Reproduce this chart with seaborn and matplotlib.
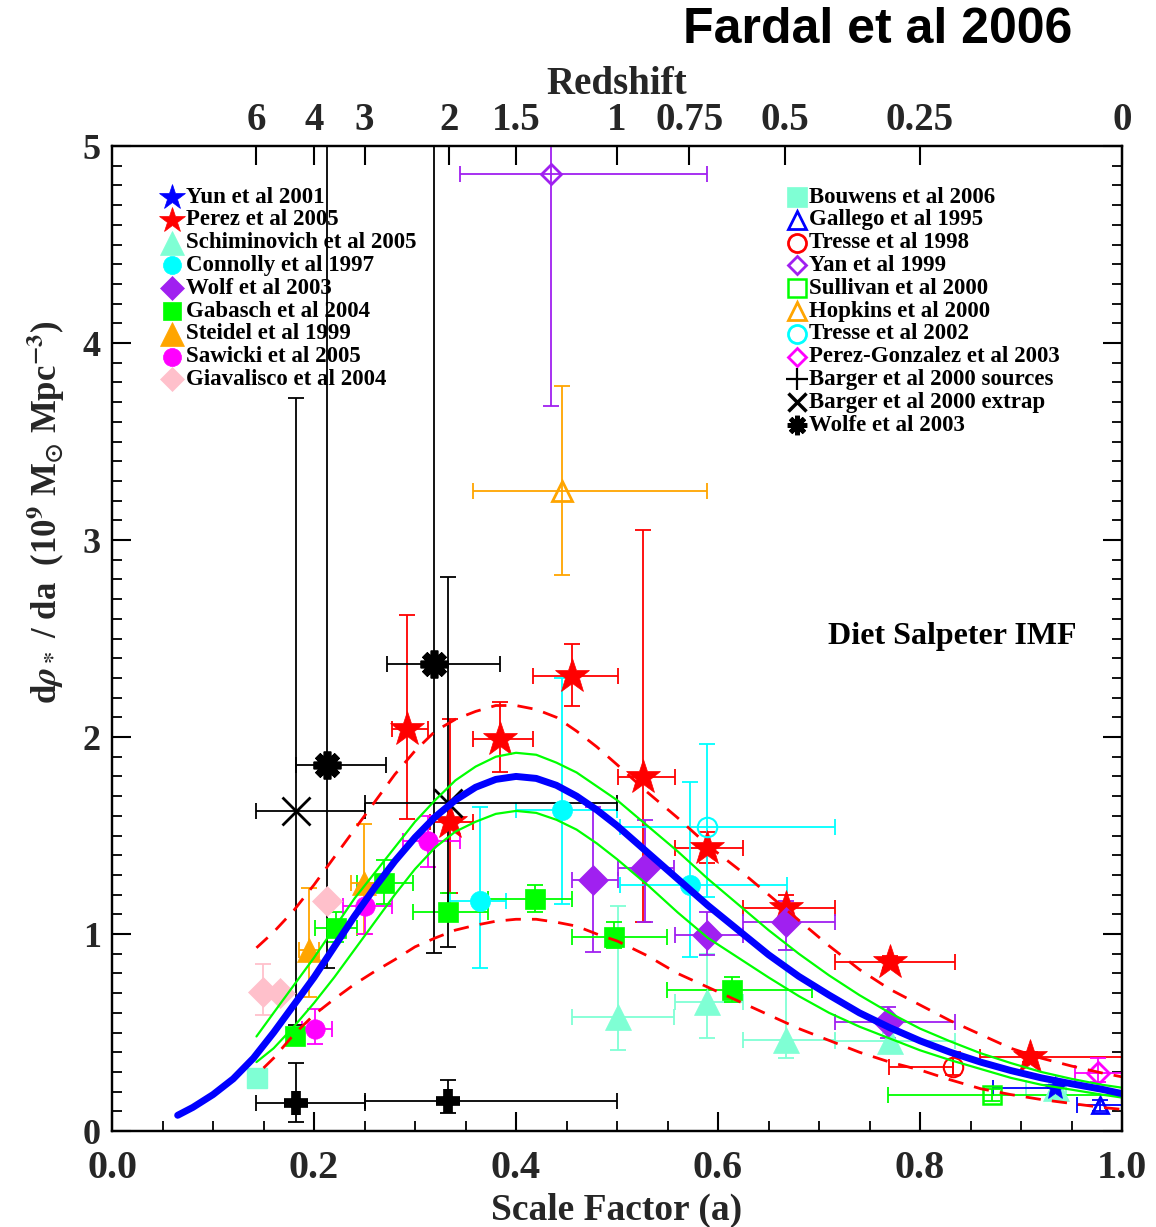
import numpy as np
import pandas as pd
import matplotlib
matplotlib.use("Agg")
import matplotlib.pyplot as plt
from matplotlib.ticker import MultipleLocator, FormatStrFormatter
import seaborn as sns

# ---------------- model curves ----------------
fit_a = [0.065, 0.08, 0.10, 0.12, 0.14, 0.16, 0.18, 0.20, 0.22, 0.24, 0.26, 0.28, 0.30, 0.32, 0.34,
         0.36, 0.38, 0.40, 0.42, 0.44, 0.46, 0.48, 0.50, 0.53, 0.56, 0.59, 0.62, 0.65, 0.68, 0.71,
         0.74, 0.77, 0.80, 0.83, 0.86, 0.89, 0.92, 0.95, 0.98, 1.00]
fit_y = [0.08, 0.12, 0.185, 0.265, 0.37, 0.50, 0.64, 0.78, 0.935, 1.09, 1.235, 1.37, 1.49, 1.595, 1.68,
         1.745, 1.785, 1.80, 1.79, 1.755, 1.70, 1.63, 1.55, 1.415, 1.28, 1.145, 1.02, 0.895, 0.785, 0.69,
         0.60, 0.525, 0.458, 0.40, 0.35, 0.307, 0.27, 0.24, 0.212, 0.19]

band_a = [0.143, 0.16, 0.18, 0.20, 0.22, 0.24, 0.26, 0.28, 0.30, 0.32, 0.34, 0.36, 0.38, 0.40, 0.42,
          0.44, 0.46, 0.48, 0.50, 0.53, 0.56, 0.59, 0.62, 0.65, 0.68, 0.71, 0.74, 0.77, 0.80, 0.83,
          0.86, 0.89, 0.92, 0.95, 0.98, 1.00]
green_hi = [0.48, 0.60, 0.74, 0.88, 1.03, 1.18, 1.31, 1.44, 1.57, 1.68, 1.78, 1.85, 1.90, 1.92, 1.91,
            1.87, 1.82, 1.75, 1.68, 1.55, 1.42, 1.28, 1.15, 1.02, 0.90, 0.79, 0.69, 0.60, 0.52, 0.455,
            0.395, 0.345, 0.30, 0.265, 0.235, 0.22]
green_lo = [0.35, 0.42, 0.53, 0.65, 0.78, 0.92, 1.06, 1.20, 1.33, 1.44, 1.52, 1.57, 1.61, 1.625, 1.615,
            1.58, 1.53, 1.46, 1.38, 1.25, 1.11, 0.98, 0.88, 0.78, 0.685, 0.60, 0.53, 0.47, 0.41, 0.36,
            0.315, 0.27, 0.235, 0.21, 0.185, 0.17]
red_hi = [0.93, 1.01, 1.12, 1.25, 1.39, 1.53, 1.67, 1.81, 1.93, 2.03, 2.09, 2.13, 2.16, 2.16, 2.14,
          2.10, 2.03, 1.95, 1.86, 1.72, 1.59, 1.45, 1.33, 1.20, 1.07, 0.94, 0.82, 0.72, 0.64, 0.56,
          0.49, 0.42, 0.37, 0.33, 0.295, 0.275]
red_lo_a = [0.15, 0.16, 0.18, 0.20, 0.22, 0.24, 0.26, 0.28, 0.30, 0.32, 0.34, 0.36, 0.38, 0.40, 0.42,
            0.44, 0.46, 0.48, 0.50, 0.53, 0.56, 0.59, 0.62, 0.65, 0.68, 0.71, 0.74, 0.77, 0.80, 0.83,
            0.86, 0.89, 0.92, 0.95, 0.98, 1.00]
red_lo = [0.32, 0.37, 0.49, 0.59, 0.67, 0.745, 0.81, 0.87, 0.935, 0.98, 1.02, 1.045, 1.065, 1.075, 1.075,
          1.06, 1.04, 1.00, 0.965, 0.89, 0.80, 0.73, 0.66, 0.59, 0.52, 0.46, 0.40, 0.35, 0.31, 0.26,
          0.215, 0.185, 0.16, 0.14, 0.12, 0.11]

# ---------------- data points: value, lower bound, upper bound ----------------
yun_x = [0.934]; yun_y = [0.22]
yun_xlo = [0.872]; yun_xhi = [0.934]; yun_ylo = [0.22]; yun_yhi = [0.22]

perez_x = [0.2925, 0.335, 0.384, 0.455, 0.526, 0.589, 0.667, 0.770, 0.909]
perez_y = [2.04, 1.57, 1.99, 2.31, 1.795, 1.437, 1.13, 0.86, 0.376]
perez_xlo = [0.277, 0.315, 0.357, 0.417, 0.501, 0.557, 0.625, 0.716, 0.859]
perez_xhi = [0.313, 0.357, 0.417, 0.501, 0.557, 0.625, 0.716, 0.835, 1.0]
perez_ylo = [1.585, 1.21, 1.82, 2.16, 1.06, 1.36, 1.06, 0.83, 0.35]
perez_yhi = [2.62, 2.09, 2.18, 2.47, 3.05, 1.52, 1.20, 0.89, 0.40]

schim_x = [0.501, 0.589, 0.667, 0.770, 0.935]
schim_y = [0.58, 0.655, 0.46, 0.455, 0.22]
schim_xlo = [0.455, 0.557, 0.625, 0.716, 0.905]
schim_xhi = [0.556, 0.625, 0.716, 0.835, 0.945]
schim_ylo = [0.41, 0.47, 0.37, 0.42, 0.20]
schim_yhi = [1.14, 0.90, 0.92, 0.50, 0.24]

conn_x = [0.364, 0.446, 0.572]
conn_y = [1.17, 1.63, 1.25]
conn_xlo = [0.335, 0.40, 0.503]
conn_xhi = [0.39, 0.50, 0.668]
conn_ylo = [0.83, 1.15, 0.885]
conn_yhi = [1.645, 2.30, 1.77]

wolf_x = [0.476, 0.528, 0.589, 0.667, 0.768]
wolf_y = [1.274, 1.335, 0.995, 1.06, 0.553]
wolf_xlo = [0.455, 0.501, 0.557, 0.625, 0.716]
wolf_xhi = [0.501, 0.556, 0.625, 0.716, 0.835]
wolf_ylo = [0.91, 1.06, 0.895, 0.92, 0.47]
wolf_yhi = [1.645, 1.58, 1.11, 1.17, 0.63]

gab_x = [0.181, 0.222, 0.269, 0.333, 0.419, 0.497, 0.614]
gab_y = [0.48, 1.03, 1.26, 1.11, 1.18, 0.985, 0.716]
gab_xlo = [0.181, 0.201, 0.2425, 0.298, 0.372, 0.455, 0.549]
gab_xhi = [0.181, 0.2425, 0.298, 0.372, 0.455, 0.549, 0.693]
gab_ylo = [0.48, 0.96, 1.15, 1.07, 1.11, 0.93, 0.655]
gab_yhi = [0.48, 1.11, 1.375, 1.21, 1.25, 1.06, 0.78]

steidel_x = [0.195, 0.249]
steidel_y = [0.92, 1.26]
steidel_xlo = [0.185, 0.237]
steidel_xhi = [0.205, 0.261]
steidel_ylo = [0.68, 1.0]
steidel_yhi = [1.235, 1.56]

saw_x = [0.201, 0.25, 0.313]
saw_y = [0.52, 1.14, 1.47]
saw_xlo = [0.188, 0.229, 0.288]
saw_xhi = [0.218, 0.277, 0.345]
saw_ylo = [0.44, 1.0, 1.34]
saw_yhi = [0.62, 1.25, 1.60]

giav_x = [0.149, 0.166, 0.213]
giav_y = [0.705, 0.70, 1.17]
giav_xlo = [0.149, 0.166, 0.213]
giav_xhi = [0.149, 0.166, 0.213]
giav_ylo = [0.59, 0.70, 1.17]
giav_yhi = [0.85, 0.70, 1.17]

bouw_x = [0.144]; bouw_y = [0.27]

gal_x = [0.978]; gal_y = [0.13]
gal_xlo = [0.955]; gal_xhi = [1.0]; gal_ylo = [0.10]; gal_yhi = [0.16]

tr98_x = [0.833]; tr98_y = [0.325]
tr98_xlo = [0.769]; tr98_xhi = [0.833]; tr98_ylo = [0.285]; tr98_yhi = [0.40]

yan_x = [0.4347]; yan_y = [4.86]
yan_xlo = [0.345]; yan_xhi = [0.589]; yan_ylo = [3.68]; yan_yhi = [5.3]

sul_x = [0.871]; sul_y = [0.183]
sul_xlo = [0.768]; sul_xhi = [1.0]; sul_ylo = [0.15]; sul_yhi = [0.215]

hop_x = [0.4455]; hop_y = [3.25]
hop_xlo = [0.357]; hop_xhi = [0.589]; hop_ylo = [2.82]; hop_yhi = [3.78]

tr02_x = [0.589]; tr02_y = [1.545]
tr02_xlo = [0.503]; tr02_xhi = [0.716]; tr02_ylo = [1.19]; tr02_yhi = [1.965]

pg_x = [0.976]; pg_y = [0.294]
pg_xlo = [0.953]; pg_xhi = [1.0]; pg_ylo = [0.25]; pg_yhi = [0.37]

bsrc_x = [0.182, 0.333]; bsrc_y = [0.14, 0.15]
bsrc_xlo = [0.143, 0.25]; bsrc_xhi = [0.25, 0.5]
bsrc_ylo = [0.045, 0.09]; bsrc_yhi = [0.345, 0.26]

bext_x = [0.182, 0.333]; bext_y = [1.625, 1.665]
bext_xlo = [0.143, 0.25]; bext_xhi = [0.25, 0.5]
bext_ylo = [0.54, 0.935]; bext_yhi = [3.72, 2.81]

wolfe_x = [0.213, 0.3185]; wolfe_y = [1.86, 2.37]
wolfe_xlo = [0.182, 0.272]; wolfe_xhi = [0.271, 0.384]
wolfe_ylo = [0.83, 0.905]; wolfe_yhi = [5.3, 5.3]

redshift_vals = [6, 4, 3, 2, 1.5, 1, 0.75, 0.5, 0.25, 0]
redshift_labels = ["6", "4", "3", "2", "1.5", "1", "0.75", "0.5", "0.25", "0"]
x_ticks = [0.0, 0.2, 0.4, 0.6, 0.8, 1.0]
y_ticks = [0, 1, 2, 3, 4, 5]

left_legend = ["Yun et al 2001", "Perez et al 2005", "Schiminovich et al 2005", "Connolly et al 1997",
               "Wolf et al 2003", "Gabasch et al 2004", "Steidel et al 1999", "Sawicki et al 2005",
               "Giavalisco et al 2004"]
right_legend = ["Bouwens et al 2006", "Gallego et al 1995", "Tresse et al 1998", "Yan et al 1999",
                "Sullivan et al 2000", "Hopkins et al 2000", "Tresse et al 2002",
                "Perez-Gonzalez et al 2003", "Barger et al 2000 sources", "Barger et al 2000 extrap",
                "Wolfe et al 2003"]

# ---------------- style ----------------
sns.set_theme(style="ticks")
plt.rcParams["font.family"] = ["Liberation Serif", "DejaVu Serif"]
plt.rcParams["font.weight"] = "bold"
plt.rcParams["mathtext.fontset"] = "stix"
plt.rcParams["axes.linewidth"] = 1.6
plt.rcParams["axes.edgecolor"] = "black"

BLUE = "#0000ff"; RED = "#ff0000"; AQUA = "#7fffd4"; CYAN = "#00ffff"; PURPLE = "#a020f0"
GREEN = "#00ff00"; ORANGE = "#ffa500"; MAGENTA = "#ff00ff"; PINK = "#ffc0cb"; BLACK = "#000000"
AST = (8, 2, 0)

fig = plt.figure(figsize=(11.56, 12.27), dpi=100)
ax = fig.add_axes([0.0969, 0.0782, 0.8737, 0.8028])


def draw(x, y, xlo, xhi, ylo, yhi, color, marker, ms, filled=True, mew=1.5, z=3):
    x = np.asarray(x, float); y = np.asarray(y, float)
    xerr = np.vstack([x - np.asarray(xlo), np.asarray(xhi) - x])
    yerr = np.vstack([y - np.asarray(ylo), np.asarray(yhi) - y])
    ax.errorbar(x, y, xerr=xerr, yerr=yerr, fmt="none", ecolor=color, elinewidth=1.3,
                capsize=6, capthick=1.3, zorder=z)
    ax.plot(x, y, linestyle="none", marker=marker, ms=ms, mfc=color if filled else "none",
            mec=color, mew=mew, zorder=z + 0.5)


draw(perez_x, perez_y, perez_xlo, perez_xhi, perez_ylo, perez_yhi, RED, "*", 26, mew=0.5)
draw(schim_x, schim_y, schim_xlo, schim_xhi, schim_ylo, schim_yhi, AQUA, "^", 19, mew=0.5)
draw(conn_x, conn_y, conn_xlo, conn_xhi, conn_ylo, conn_yhi, CYAN, "o", 14.5, mew=0.5)
draw(wolf_x, wolf_y, wolf_xlo, wolf_xhi, wolf_ylo, wolf_yhi, PURPLE, "D", 15, mew=0.5)
draw(gab_x, gab_y, gab_xlo, gab_xhi, gab_ylo, gab_yhi, GREEN, "s", 14.5, mew=0.5)
draw(steidel_x, steidel_y, steidel_xlo, steidel_xhi, steidel_ylo, steidel_yhi, ORANGE, "^", 17, mew=0.5)
draw(saw_x, saw_y, saw_xlo, saw_xhi, saw_ylo, saw_yhi, MAGENTA, "o", 14, mew=0.5)
draw(giav_x, giav_y, giav_xlo, giav_xhi, giav_ylo, giav_yhi, PINK, "D", 15, mew=0.5)
ax.plot(bouw_x, bouw_y, linestyle="none", marker="s", ms=14, color=AQUA, zorder=3)
draw(yun_x, yun_y, yun_xlo, yun_xhi, yun_ylo, yun_yhi, BLUE, "*", 18, mew=0.5)
draw(gal_x, gal_y, gal_xlo, gal_xhi, gal_ylo, gal_yhi, BLUE, "^", 12, filled=False, mew=2)
draw(tr98_x, tr98_y, tr98_xlo, tr98_xhi, tr98_ylo, tr98_yhi, RED, "o", 14, filled=False, mew=1.5)
draw(yan_x, yan_y, yan_xlo, yan_xhi, yan_ylo, yan_yhi, PURPLE, "D", 10, filled=False, mew=2)
draw(sul_x, sul_y, sul_xlo, sul_xhi, sul_ylo, sul_yhi, GREEN, "s", 13, filled=False, mew=1.8)
draw(hop_x, hop_y, hop_xlo, hop_xhi, hop_ylo, hop_yhi, ORANGE, "^", 14, filled=False, mew=2)
draw(tr02_x, tr02_y, tr02_xlo, tr02_xhi, tr02_ylo, tr02_yhi, CYAN, "o", 14, filled=False, mew=1.5)
draw(pg_x, pg_y, pg_xlo, pg_xhi, pg_ylo, pg_yhi, MAGENTA, "D", 11, filled=False, mew=2)
draw(bsrc_x, bsrc_y, bsrc_xlo, bsrc_xhi, bsrc_ylo, bsrc_yhi, BLACK, "+", 17, mew=7)
draw(bext_x, bext_y, bext_xlo, bext_xhi, bext_ylo, bext_yhi, BLACK, "x", 20, mew=2)
draw(wolfe_x, wolfe_y, wolfe_xlo, wolfe_xhi, wolfe_ylo, wolfe_yhi, BLACK, AST, 20, mew=5.5)

# ---------------- curves via seaborn ----------------
DASH = (0, (5.5, 4))
sns.lineplot(x=red_lo_a, y=red_lo, ax=ax, color=RED, lw=2.0, linestyle=DASH,
             sort=False, estimator=None, zorder=6)
sns.lineplot(x=band_a, y=red_hi, ax=ax, color=RED, lw=2.0, linestyle=DASH,
             sort=False, estimator=None, zorder=6)
sns.lineplot(x=band_a, y=green_hi, ax=ax, color=GREEN, lw=1.6, sort=False, estimator=None, zorder=7)
sns.lineplot(x=band_a, y=green_lo, ax=ax, color=GREEN, lw=1.6, sort=False, estimator=None, zorder=7)
sns.lineplot(x=fit_a, y=fit_y, ax=ax, color=BLUE, lw=5, sort=False, estimator=None, zorder=8)

# ---------------- axes ----------------
ax.set_xlim(0, 1)
ax.set_ylim(0, 5)
ax.set_xticks(x_ticks)
ax.xaxis.set_major_formatter(FormatStrFormatter("%.1f"))
ax.xaxis.set_minor_locator(MultipleLocator(0.05))
ax.set_yticks(y_ticks)
ax.yaxis.set_minor_locator(MultipleLocator(0.1))
ax.tick_params(axis="both", which="major", direction="in", length=14, width=1.5, color="black")
ax.tick_params(axis="both", which="minor", direction="in", length=7, width=1.3, color="black")
ax.tick_params(axis="x", which="both", top=False, bottom=True, labelsize=29, pad=14)
ax.tick_params(axis="y", which="both", left=True, right=True, labelsize=26, pad=8)
for lab in ax.get_xticklabels() + ax.get_yticklabels():
    lab.set_fontweight("bold")
ax.set_xlabel("Scale Factor (a)", fontsize=27, fontweight="bold")
ax.xaxis.set_label_coords(0.5, -0.081)
ax.xaxis.label.set_va("center")
ax.set_ylabel(r"d$\rho_*$ / da  (10$^9$ M$_{\odot}$ Mpc$^{-3}$)", fontsize=25, fontweight="bold")
ax.yaxis.set_label_coords(-0.066, 0.628)
ax.yaxis.label.set_va("center")
for s in ax.spines.values():
    s.set_linewidth(1.6)
    s.set_color("black")

ax2 = ax.twiny()
ax2.set_xlim(0, 1)
ax2.set_xticks([1.0 / (1.0 + z) for z in redshift_vals])
ax2.set_xticklabels(redshift_labels, fontsize=28, fontweight="bold")
ax2.tick_params(axis="x", direction="in", length=14, width=1.5, pad=5, color="black")
ax2.set_xlabel("Redshift", fontsize=28, fontweight="bold")
ax2.xaxis.set_label_coords(0.5, 1.062)
ax2.xaxis.label.set_va("center")
for s in ax2.spines.values():
    s.set_linewidth(1.6)
    s.set_color("black")

# ---------------- legends (manual) ----------------
row_h = 22.8 / 985.0
y0 = (1131 - 197) / 985.0
left_style = [
    ("*", 19, BLUE, True, 0.5), ("*", 19, RED, True, 0.5), ("^", 17, AQUA, True, 0.5),
    ("o", 13, CYAN, True, 0.5), ("D", 12, PURPLE, True, 0.5), ("s", 12.5, GREEN, True, 0.5),
    ("^", 17, ORANGE, True, 0.5), ("o", 13, MAGENTA, True, 0.5), ("D", 12, PINK, True, 0.5),
]
right_style = [
    ("s", 14, AQUA, True, 0.5), ("^", 13, BLUE, False, 2), ("o", 13, RED, False, 2),
    ("D", 9, PURPLE, False, 2), ("s", 13, GREEN, False, 1.8), ("^", 13, ORANGE, False, 2),
    ("o", 13, CYAN, False, 2), ("D", 9, MAGENTA, False, 2), ("+", 16, BLACK, True, 1.6),
    ("x", 13, BLACK, True, 2.5), (AST, 14, BLACK, True, 3.5),
]


def legend_col(labels, styles, xm, xt):
    for i, (lab, (mk, ms, col, filled, mew)) in enumerate(zip(labels, styles)):
        yy = y0 - i * row_h
        ax.plot([xm], [yy], transform=ax.transAxes, linestyle="none", marker=mk, ms=ms,
                mfc=col if filled else "none", mec=col, mew=mew, clip_on=False, zorder=10)
        ax.text(xt, yy, lab, transform=ax.transAxes, ha="left", va="center", fontsize=16.5,
                fontweight="bold", color="black", zorder=10)


legend_col(left_legend, left_style, (172 - 112) / 1010.0, (186 - 112) / 1010.0)
legend_col(right_legend, right_style, (797 - 112) / 1010.0, (809 - 112) / 1010.0)

ax.text(0.832, 2.51, "Diet Salpeter IMF", ha="center", va="center", fontsize=23,
        fontweight="bold", color="black")

fig.text(0.759, 0.9756, "Fardal et al 2006", ha="center", va="center", fontsize=36,
         fontweight="bold", family=["Liberation Sans", "DejaVu Sans"], color="black")

fig.savefig("out.png", dpi=100)
